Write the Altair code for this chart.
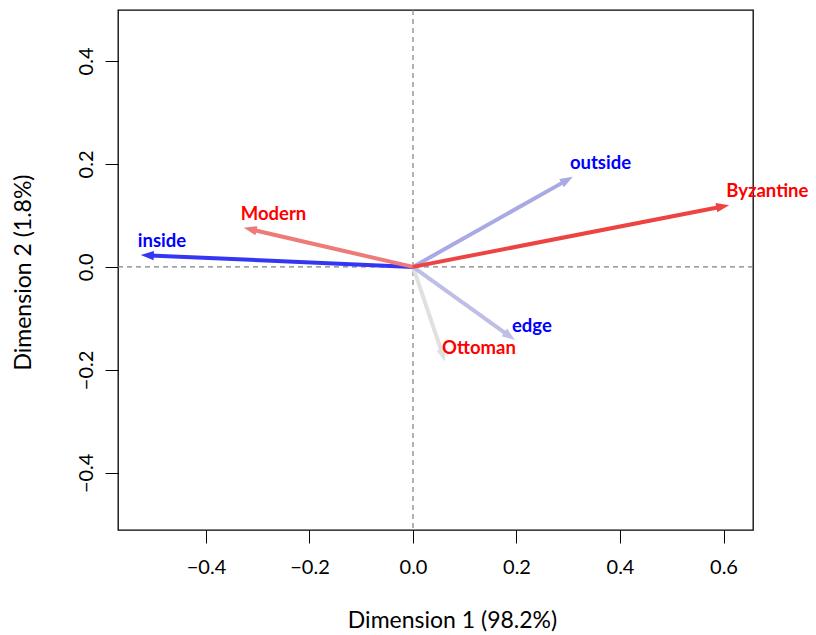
import altair as alt
import pandas as pd

names = ["Ottoman", "edge", "outside", "inside", "Modern", "Byzantine"]
dim1 = [0.062, 0.197, 0.309, -0.526, -0.327, 0.611]
dim2 = [-0.184, -0.142, 0.175, 0.023, 0.076, 0.120]
arrow_colors = ["#e0e0e0", "#bebee6", "#a9a9e3", "#3535f5", "#ee7a7a", "#ee4343"]
label_colors = ["#ff0000", "#0000ff", "#0000ff", "#0000ff", "#ff0000", "#ff0000"]

df = pd.DataFrame({"name": names, "x": dim1, "y": dim2,
                   "acol": arrow_colors, "lcol": label_colors})

FONT = "Lato"
xscale = alt.Scale(domain=[-0.570, 0.657], nice=False, zero=False)
yscale = alt.Scale(domain=[-0.511, 0.499], nice=False, zero=False)

base = alt.Chart(df).transform_calculate(
    L="sqrt(datum.x*datum.x + datum.y*datum.y)",
    x0="0", y0="0",
).transform_calculate(
    xs="datum.x*(1-0.018/datum.L)",
    ys="datum.y*(1-0.018/datum.L)",
    ang="((atan2(-datum.y*515, datum.x*517.5)*180/PI) % 360 + 360) % 360",
)

xaxis = alt.Axis(values=[-0.4, -0.2, 0.0, 0.2, 0.4, 0.6], format=".1f",
                 title="Dimension 1 (98.2%)", grid=False, domain=False,
                 tickSize=13, tickColor="black", labelFontSize=20, labelColor="black",
                 labelPadding=14, labelFont=FONT, titleFont=FONT, titleFontSize=23,
                 titleFontWeight="normal", titleColor="black",
                 titleX=334, titleAlign="center", titleY=90, titleBaseline="middle")
yaxis = alt.Axis(values=[-0.4, -0.2, 0.0, 0.2, 0.4], format=".1f",
                 title="Dimension 2 (1.8%)", grid=False, domain=False,
                 tickSize=13, tickColor="black", labelFontSize=20, labelColor="black",
                 labelAngle=270, labelAlign="center", labelBaseline="bottom",
                 labelPadding=9, labelFont=FONT, titleFont=FONT, titleFontSize=23,
                 titleFontWeight="normal", titleColor="black",
                 titleX=-95, titleY=262, titleAngle=270, titleBaseline="middle",
                 titleAlign="center")

zero = pd.DataFrame({"z": [0.0]})
vline = alt.Chart(zero).mark_rule(color="#808080", strokeDash=[5, 4], strokeWidth=1.2).encode(
    x=alt.X("z:Q", scale=xscale, axis=xaxis))
hline = alt.Chart(zero).mark_rule(color="#808080", strokeDash=[5, 4], strokeWidth=1.2).encode(
    y=alt.Y("z:Q", scale=yscale, axis=yaxis))

shafts = base.mark_rule(strokeWidth=4).encode(
    x=alt.X("x0:Q", scale=xscale), y=alt.Y("y0:Q", scale=yscale),
    x2="xs:Q", y2="ys:Q",
    color=alt.Color("acol:N", scale=None),
)
heads = base.mark_point(shape="M 0 0 L -2 -0.72 L -2 0.72 Z", filled=True, opacity=1,
                        size=170, strokeWidth=0).encode(
    x=alt.X("x:Q", scale=xscale), y=alt.Y("y:Q", scale=yscale),
    angle=alt.Angle("ang:Q", scale=None),
    color=alt.Color("acol:N", scale=None),
)
labels = base.mark_text(align="left", baseline="middle", dx=-3, dy=-14, fontSize=18.5,
                        fontWeight="bold", font=FONT).encode(
    x=alt.X("x:Q", scale=xscale), y=alt.Y("y:Q", scale=yscale),
    text="name:N",
    color=alt.Color("lcol:N", scale=None),
)

chart = alt.layer(vline, hline, shafts, heads, labels).properties(
    width=635, height=520,
    autosize=alt.AutoSizeParams(type="none"),
    padding={"left": 110, "top": 2, "right": 55, "bottom": 103},
    background="white",
).configure_view(stroke="black", strokeWidth=1.3)

chart.save("out.html", embed_options={"renderer": "svg", "actions": False})
